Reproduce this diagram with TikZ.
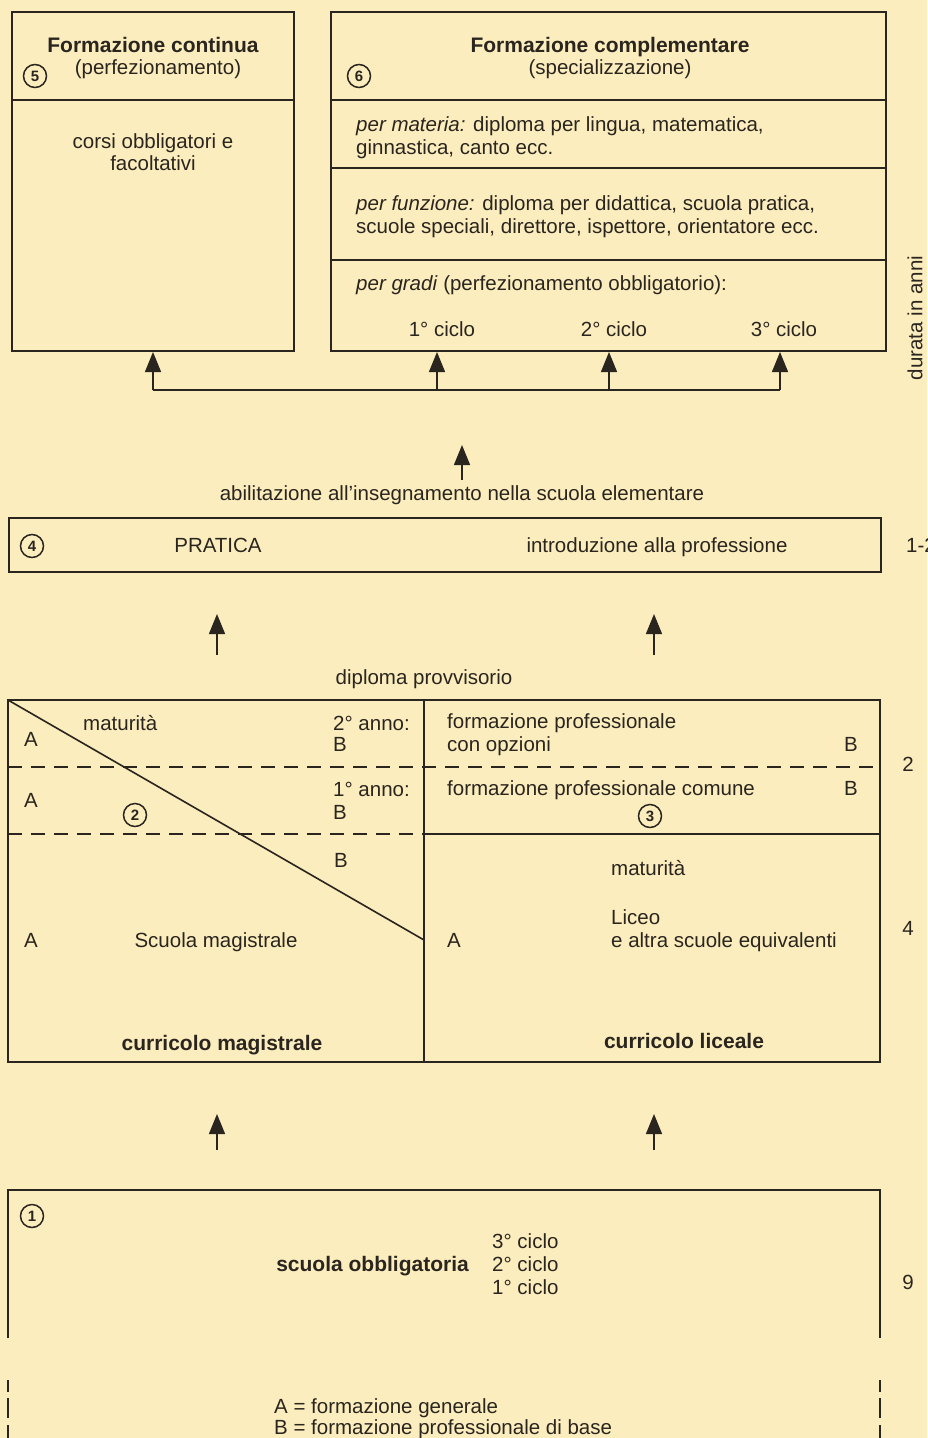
\documentclass[tikz,border=0pt]{standalone}
\usepackage{fontspec}
\setmainfont{Liberation Sans}
\usetikzlibrary{arrows.meta}
\definecolor{bg}{RGB}{251,237,190}
\definecolor{ink}{RGB}{42,37,30}
\begin{document}
\begin{tikzpicture}[x=1pt,y=-1pt,
  ln/.style={draw=ink,line width=1.6pt},
  dln/.style={draw=ink,line width=1.4pt,dash pattern=on 14pt off 9pt},
  txt/.style={inner sep=0pt,text=ink,font=\fontsize{20.5}{24}\selectfont},
  btxt/.style={txt,font=\fontsize{21}{24}\selectfont\bfseries},
  num/.style={circle,draw=ink,line width=1.5pt,minimum size=23pt,inner sep=0pt,text=ink,font=\fontsize{15}{15}\selectfont\bfseries},
  uparr/.style={draw=ink,line width=1.4pt,-{Triangle[width=16pt,length=20pt]}}]
\fill[bg] (0,0) rectangle (927,1438);
\useasboundingbox (0,0) rectangle (927,1438);

% ---------- box 5
\draw[ln] (12,12) rectangle (294,351);
\draw[ln] (12,100) -- (294,100);
\node[btxt,anchor=base] (t5a) at (153,52) {Formazione continua};
\node[txt,anchor=base] (t5b) at (158,74) {(perfezionamento)};
\node[num] (n5) at (35,76) {5};
\node[txt,anchor=base] (t5c) at (153,148) {corsi obbligatori e};
\node[txt,anchor=base] (t5d) at (153,170) {facoltativi};

% ---------- box 6
\draw[ln] (331,12) rectangle (886,351);
\draw[ln] (331,100) -- (886,100);
\draw[ln] (331,168) -- (886,168);
\draw[ln] (331,260) -- (886,260);
\node[btxt,anchor=base] (t6a) at (610,52) {Formazione complementare};
\node[txt,anchor=base] (t6b) at (610,74) {(specializzazione)};
\node[num] (n6) at (359,76) {6};
\node[txt,anchor=base west] (r1a) at (356,131) {\textit{per materia:} diploma per lingua, matematica,};
\node[txt,anchor=base west] (r1b) at (356,154) {ginnastica, canto ecc.};
\node[txt,anchor=base west] (r2a) at (356,210) {\textit{per funzione:} diploma per didattica, scuola pratica,};
\node[txt,anchor=base west] (r2b) at (356,233) {scuole speciali, direttore, ispettore, orientatore ecc.};
\node[txt,anchor=base west] (r3a) at (356,290) {\textit{per gradi} (perfezionamento obbligatorio):};
\node[txt,anchor=base] (c1) at (442,336) {1° ciclo};
\node[txt,anchor=base] (c2) at (614,336) {2° ciclo};
\node[txt,anchor=base] (c3) at (784,336) {3° ciclo};

% ---------- arrows into boxes 5/6
\coordinate (a0) at (153,352);
\coordinate (a1) at (437,352);
\coordinate (a2) at (609,352);
\coordinate (a3) at (780,352);
\coordinate (h0) at (153,390);
\coordinate (h1) at (437,390);
\coordinate (h2) at (609,390);
\coordinate (h3) at (780,390);
\draw[ln,line width=1.4pt] (h0) -- (h3);
\draw[uparr] (h0) -- (a0);
\draw[uparr] (h1) -- (a1);
\draw[uparr] (h2) -- (a2);
\draw[uparr] (h3) -- (a3);

\node[txt,anchor=center,rotate=90] (dur) at (915,318) {durata in anni};

% ---------- abilitazione
\coordinate (m0) at (462,480);
\coordinate (m1) at (462,445);
\draw[uparr] (m0) -- (m1);
\node[txt,anchor=base] (abil) at (462,500) {abilitazione all’insegnamento nella scuola elementare};

% ---------- box 4
\draw[ln] (9,518) rectangle (881,572);
\node[num] (n4) at (32,546) {4};
\node[txt,anchor=base] (prat) at (218,552) {PRATICA};
\node[txt,anchor=base] (intr) at (657,552) {introduzione alla professione};
\node[txt,anchor=base west] (d12) at (906,552) {1-2};

\coordinate (p0) at (217,655);
\coordinate (p1) at (217,614);
\coordinate (q0) at (654,655);
\coordinate (q1) at (654,614);
\draw[uparr] (p0) -- (p1);
\draw[uparr] (q0) -- (q1);
\node[txt,anchor=base] (dipl) at (424,684) {diploma provvisorio};

% ---------- big box 2/3
\draw[ln] (8,700) rectangle (880,1062);
\draw[ln] (424,700) -- (424,1062);
\draw[dln] (8,767) -- (880,767);
\draw[dln] (8,834) -- (424,834);
\draw[ln] (424,834) -- (880,834);
\draw[ln] (8,700) -- (424,940);

\node[txt,anchor=base] (la1) at (31,746) {A};
\node[txt,anchor=base west] (lmat) at (83,730) {maturità};
\node[txt,anchor=base west] (l2an) at (333,730) {2° anno:};
\node[txt,anchor=base west] (l2b) at (333,751) {B};
\node[txt,anchor=base] (la2) at (31,807) {A};
\node[txt,anchor=base west] (l1an) at (333,796) {1° anno:};
\node[txt,anchor=base west] (l1b) at (333,819) {B};
\node[num] (n2) at (135,815) {2};
\node[txt,anchor=base west] (l3b) at (334,867) {B};
\node[txt,anchor=base] (la3) at (31,947) {A};
\node[txt,anchor=base] (lsm) at (216,947) {Scuola magistrale};
\node[btxt,anchor=base] (lcur) at (222,1050) {curricolo magistrale};

\node[txt,anchor=base west] (rf1) at (447,728) {formazione professionale};
\node[txt,anchor=base west] (rf2) at (447,751) {con opzioni};
\node[txt,anchor=base] (rb1) at (851,751) {B};
\node[txt,anchor=base west] (rf3) at (447,795) {formazione professionale comune};
\node[txt,anchor=base] (rb2) at (851,795) {B};
\node[num] (n3) at (650,816) {3};
\node[txt,anchor=base west] (rmat) at (611,875) {maturità};
\node[txt,anchor=base west] (rlic) at (611,924) {Liceo};
\node[txt,anchor=base west] (ralt) at (611,947) {e altra scuole equivalenti};
\node[txt,anchor=base] (ra) at (454,947) {A};
\node[btxt,anchor=base] (rcur) at (684,1048) {curricolo liceale};

\node[txt,anchor=base] (d2) at (908,771) {2};
\node[txt,anchor=base] (d4) at (908,935) {4};

\coordinate (s0) at (217,1150);
\coordinate (s1) at (217,1114);
\coordinate (u0) at (654,1150);
\coordinate (u1) at (654,1114);
\draw[uparr] (s0) -- (s1);
\draw[uparr] (u0) -- (u1);

% ---------- box 1
\draw[ln] (8,1338) -- (8,1190) -- (880,1190) -- (880,1338);
\draw[ln,line width=1.3pt] (8,1380) -- (8,1392) (8,1398) -- (8,1418) (8,1425) -- (8,1438);
\draw[ln,line width=1.3pt] (880,1380) -- (880,1392) (880,1398) -- (880,1418) (880,1425) -- (880,1438);
\node[num] (n1) at (32,1216) {1};
\node[btxt,anchor=base east] (sob) at (469,1271) {scuola obbligatoria};
\node[txt,anchor=base west] (sc3) at (492,1248) {3° ciclo};
\node[txt,anchor=base west] (sc2) at (492,1271) {2° ciclo};
\node[txt,anchor=base west] (sc1) at (492,1294) {1° ciclo};
\node[txt,anchor=base] (d9) at (908,1289) {9};

\node[txt,anchor=base west] (lgA) at (274,1413) {A = formazione generale};
\node[txt,anchor=base west] (lgB) at (274,1434) {B = formazione professionale di base};
\end{tikzpicture}
\end{document}
